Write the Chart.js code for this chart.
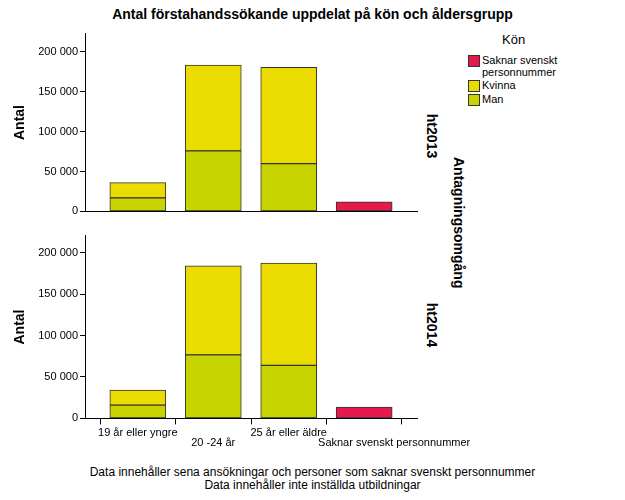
<!DOCTYPE html>
<html><head><meta charset="utf-8">
<script src="https://cdn.jsdelivr.net/npm/chart.js@4"></script>
<style>
body{margin:0;width:625px;height:500px;background:#fff;font-family:"Liberation Sans",Arial,sans-serif;position:relative;overflow:hidden}
.abs{position:absolute}
.rot{transform:rotate(90deg);transform-origin:center;white-space:nowrap;font-weight:bold;font-size:14px}
canvas{position:absolute}
.leg{font-size:11px;line-height:12px;display:flex;align-items:flex-start;margin-bottom:1px}
.sw{width:10px;height:10px;border:1px solid #333;margin:1px 2px 0 0;flex:none}
.xl{position:absolute;top:429px;width:200px;text-align:center;font-size:11px;white-space:nowrap}
</style></head><body>
<div class="abs" style="left:0;width:625px;top:6px;text-align:center;font-weight:bold;font-size:14px">Antal förstahandssökande uppdelat på kön och åldersgrupp</div>
<canvas id="c1"></canvas>
<canvas id="c2"></canvas>
<div id="xlabels"></div>
<div class="abs rot" style="left:407px;top:128px;width:50px;text-align:center">ht2013</div>
<div class="abs rot" style="left:407px;top:317px;width:50px;text-align:center">ht2014</div>
<div class="abs rot" style="left:394px;top:214px;width:130px;text-align:center">Antagningsomgång</div>
<div class="abs" style="left:468px;top:32px;width:120px">
  <div style="font-size:13px;margin:0 0 7px 34px">Kön</div>
  <div class="leg"><div class="sw" style="background:#e31a4b"></div><div>Saknar svenskt<br>personnummer</div></div>
  <div class="leg"><div class="sw" style="background:#eadc00"></div><div>Kvinna</div></div>
  <div class="leg"><div class="sw" style="background:#c7d400"></div><div>Man</div></div>
</div>
<div class="abs" style="left:0;width:625px;top:466px;text-align:center;font-size:12px;line-height:13px">Data innehåller sena ansökningar och personer som saknar svenskt personnummer<br>Data innehåller inte inställda utbildningar</div>
<script>
const categories = ["19 år eller yngre", "20 -24 år", "25 år eller äldre", "Saknar svenskt personnummer"];
const man2013 = [17000, 75800, 59800, 0];
const kvinna2013 = [19000, 107600, 120700, 0];
const saknar2013 = [0, 0, 0, 12000];
const man2014 = [16000, 76600, 64000, 0];
const kvinna2014 = [18300, 107400, 123400, 0];
const saknar2014 = [0, 0, 0, 13700];
const yTicks = [0, 50000, 100000, 150000, 200000];

const colors = { man: "#c7d400", kvinna: "#eadc00", saknar: "#e31a4b" };
const fmt = (v) => v === 0 ? "0" : Math.round(v / 1000) + " 000";

function ds(label, vals, color) {
  return {
    label,
    data: vals.map((v, i) => ({ x: i, y: v })),
    backgroundColor: color,
    borderColor: "#333",
    borderWidth: 1,
    barThickness: 56,
    borderSkipped: false,
    stack: "s",
  };
}

function makeChart(id, top, height, showX, yMax, man, kvinna, saknar) {
  const cv = document.getElementById(id);
  cv.style.left = "0px";
  cv.style.top = top + "px";
  cv.style.width = "420px";
  cv.style.height = height + "px";
  cv.width = 420;
  cv.height = height;
  return new Chart(cv, {
    type: "bar",
    data: { datasets: [ds("Man", man, colors.man), ds("Kvinna", kvinna, colors.kvinna), ds("Saknar", saknar, colors.saknar)] },
    options: {
      responsive: false,
      animation: false,
      layout: { padding: { left: 8, right: 3, top: 0, bottom: 0 } },
      plugins: { legend: { display: false }, tooltip: { enabled: false } },
      scales: {
        x: {
          type: "linear", min: -0.7, max: 3.7, offset: false,
          afterBuildTicks: (s) => { s.ticks = categories.map((c, i) => ({ value: i })); },
          afterFit: (s) => { s.height = showX ? 7 : 0; },
          ticks: { display: false },
          grid: { drawOnChartArea: false, drawTicks: showX, tickLength: 6, color: "#000" },
          border: { color: "#000" },
        },
        y: {
          stacked: true, min: 0, max: yMax,
          afterBuildTicks: (s) => { s.ticks = yTicks.map((v) => ({ value: v })); },
          afterFit: (s) => { s.width = 77; },
          ticks: { color: "#000", font: { size: 11, family: "Liberation Sans" }, callback: fmt, padding: 2 },
          grid: { drawOnChartArea: false, tickLength: 5, color: "#000" },
          border: { color: "#000" },
          title: { display: true, text: "Antal", color: "#000", font: { size: 14, weight: "bold", family: "Liberation Sans" } },
        },
      },
    },
  });
}

makeChart("c1", 25, 195, false, 222800, man2013, kvinna2013, saknar2013);
const c2 = makeChart("c2", 227, 200, true, 220600, man2014, kvinna2014, saknar2014);

// category labels under the bottom panel, placed through the chart's x scale
const xl = document.getElementById("xlabels");
categories.forEach((c, i) => {
  const d = document.createElement("div");
  d.className = "xl";
  d.textContent = c;
  const px = c2.scales.x.getPixelForValue(i);
  d.style.left = (px - 100 + (i === 3 ? 30 : 0)) + "px";
  d.style.top = (i % 2 === 1 ? 436 : 426) + "px";
  xl.append(d);
});
</script>
</body></html>
